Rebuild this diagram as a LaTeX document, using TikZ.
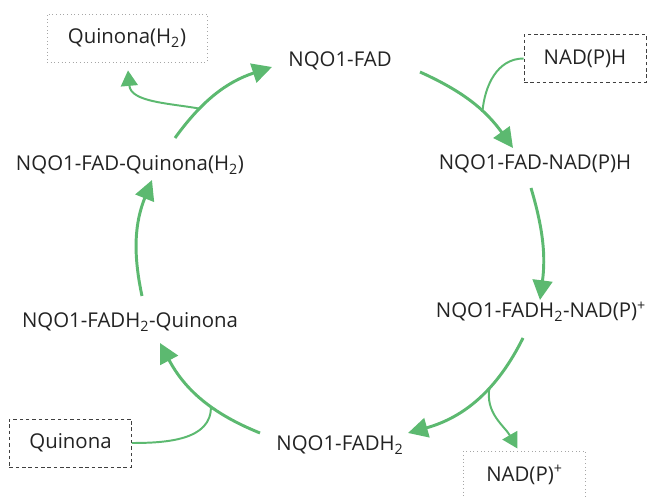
\documentclass[tikz,border=0pt]{standalone}
\usepackage{fontspec}
\setmainfont{Open Sans}
\usetikzlibrary{arrows.meta,calc}
\definecolor{cyclegreen}{RGB}{92,185,112}
\definecolor{labelgray}{RGB}{35,35,35}

\begin{document}
\begin{tikzpicture}
        [
            x=0.025cm, y=-0.025cm,
            state/.style={inner sep=0pt, anchor=base, text=labelgray, font=\fontsize{14.5}{17}\selectfont},
            inbox/.style={rectangle, draw=black!75, line width=0.6pt, dash pattern=on 2.5pt off 2pt, minimum width=3.05cm, minimum height=1.2cm, text=labelgray, font=\fontsize{14.5}{17}\selectfont},
            outbox/.style={rectangle, draw=gray!70, line width=0.6pt, dotted, minimum width=3.05cm, minimum height=1.2cm, text=labelgray, font=\fontsize{14.5}{17}\selectfont},
            mainarrow/.style={cyclegreen, line width=2.1pt, -{Triangle[length=14pt,width=14pt]}},
            sideline/.style={cyclegreen, line width=1.4pt},
            sidearrow/.style={sideline, -{Triangle[length=11pt,width=12pt]}}
        ]
        \useasboundingbox (0,0) rectangle (652,497);
        % cycle states
        \node[state] (fad) at (340,67) {NQO1-FAD};
        \node[state] (fadnad) at (535,170) {NQO1-FAD-NAD(P)H};
        \node[state] (fadhnad) at (541,318) {NQO1-FADH\textsubscript{2}-NAD(P)\textsuperscript{+}};
        \node[state] (fadh) at (340,451) {NQO1-FADH\textsubscript{2}};
        \node[state] (fadhq) at (130,328) {NQO1-FADH\textsubscript{2}-Quinona};
        \node[state] (fadq) at (130,171) {NQO1-FAD-Quinona(H\textsubscript{2})};
        % substrates and products
        \node[outbox, minimum width=4cm] (qh) at (127,38) {Quinona(H\textsubscript{2})};
        \node[inbox] (nadph) at (585,58.5) {NAD(P)H};
        \node[inbox] (quin) at (70.5,443) {Quinona};
        \node[outbox] (nadp) at (524.5,475) {NAD(P)\textsuperscript{+}};
        % NAD(P)H binding
        \draw[mainarrow] ($(fad.base)+(80,5)$) to[bend left=15] coordinate[pos=0.62] (j1) ($(fadnad.base)+(-22,-22)$);
        \draw[sideline] (nadph.west) to[out=180,in=85] (j1);
        % hydride transfer
        \draw[mainarrow] ($(fadnad.base)+(-4,18)$) to[bend left=12] ($(fadhnad.base)+(-1,-18)$);
        % NAD(P)+ release
        \draw[mainarrow] ($(fadhnad.base)+(-18,20)$) to[bend left=24] coordinate[pos=0.38] (j3) ($(fadh.base)+(68,-18)$);
        \draw[sidearrow] (j3) to[out=-100,in=120] ($(nadp.north)+(-7,-2)$);
        % quinone binding
        \draw[mainarrow] ($(fadh.base)+(-80,-18)$) to[bend left=20] coordinate[pos=0.4] (j4) ($(fadhq.base)+(30,15)$);
        \draw[sideline] (quin.east) to[out=0,in=-88] (j4);
        % reduction of quinone
        \draw[mainarrow] ($(fadhq.base)+(12,-32)$) to[bend left=17] ($(fadq.base)+(22,9)$);
        % hydroquinone release
        \draw[mainarrow] ($(fadq.base)+(45,-33)$) to[bend left=18] coordinate[pos=0.3] (j6) ($(fad.base)+(-68,0)$);
        \draw[sidearrow] (j6) to[out=170,in=-85] ($(qh.south)+(1,8)$);
    \end{tikzpicture}
\end{document}
